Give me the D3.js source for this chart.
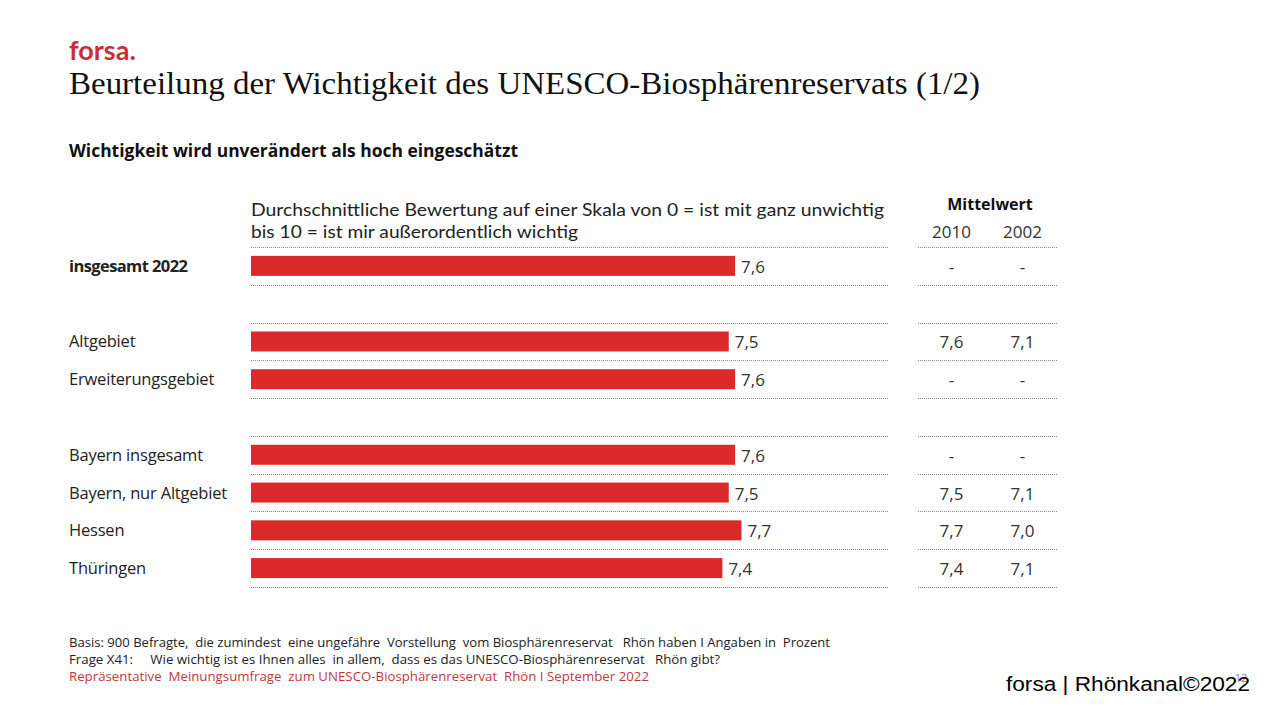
<!DOCTYPE html>
<html><head><meta charset="utf-8">
<script src="https://cdn.jsdelivr.net/npm/d3@7"></script>
<style>
body{margin:0;background:#fff;}
svg{display:block;}
</style></head>
<body>
<svg id="chart" width="1280" height="720"></svg>
<script>
// ---- data ----
const categories = ["insgesamt 2022", "", "Altgebiet", "Erweiterungsgebiet", "", "Bayern insgesamt", "Bayern, nur Altgebiet", "Hessen", "Thüringen"];
const values2022 = [7.6, null, 7.5, 7.6, null, 7.6, 7.5, 7.7, 7.4];
const values2010 = ["-", null, "7,6", "-", null, "-", "7,5", "7,7", "7,4"];
const values2002 = ["-", null, "7,1", "-", null, "-", "7,1", "7,0", "7,1"];
const tableYears = ["2010", "2002"];
const groups = [[0,0],[2,3],[5,8]];

const svg = d3.select("#chart");
const sans = "'Open Sans', 'Noto Sans', sans-serif";
const red = "#dc2a2b";

const x = d3.scaleLinear().domain([0,10]).range([251, 888]);
const y = d3.scaleBand().domain(d3.range(categories.length)).range([247, 587]).paddingInner(0).paddingOuter(0);
const tx = d3.scaleBand().domain(tableYears).range([916, 1058]);

// header
svg.append("text").attr("x",69).attr("y",60).attr("font-family","Lato, 'Open Sans', sans-serif")
  .attr("font-weight","bold").attr("font-size",27).attr("fill","#c7303a").text("forsa.");
svg.append("text").attr("x",69).attr("y",94).attr("font-family","'Liberation Serif', 'DejaVu Serif', serif")
  .attr("font-size",31).attr("fill","#111").attr("textLength",911).attr("lengthAdjust","spacingAndGlyphs")
  .text("Beurteilung der Wichtigkeit des UNESCO-Biosphärenreservats (1/2)");
svg.append("text").attr("x",69).attr("y",157).attr("font-family",sans).attr("font-weight","bold")
  .attr("font-size",17).attr("fill","#111").attr("textLength",449).attr("lengthAdjust","spacingAndGlyphs")
  .text("Wichtigkeit wird unverändert  als hoch eingeschätzt");

// chart explanation
svg.append("text").attr("x",251).attr("y",216).attr("font-family","Lato, sans-serif").attr("font-size",17).attr("fill","#222")
  .attr("textLength",633).attr("lengthAdjust","spacingAndGlyphs")
  .text("Durchschnittliche Bewertung auf einer Skala von 0 = ist mit ganz unwichtig");
svg.append("text").attr("x",251).attr("y",238).attr("font-family","Lato, sans-serif").attr("font-size",17).attr("fill","#222")
  .attr("textLength",327).attr("lengthAdjust","spacingAndGlyphs")
  .text("bis 10 = ist mir außerordentlich wichtig");

// table header
svg.append("text").attr("x",990).attr("y",210).attr("text-anchor","middle").attr("font-family",sans)
  .attr("font-weight","bold").attr("font-size",16).attr("fill","#111").text("Mittelwert");
svg.selectAll("text.year").data(tableYears).join("text").attr("class","year")
  .attr("x",d=>tx(d)+tx.bandwidth()/2).attr("y",238).attr("text-anchor","middle")
  .attr("font-family",sans).attr("font-size",17).attr("fill","#333").text(d=>d);

// dotted lines per group
const lineYs = [];
groups.forEach(([a,b])=>{
  lineYs.push(y(a));
  for(let i=a;i<=b;i++) lineYs.push(y(i)+y.bandwidth());
});
const gl = svg.append("g").attr("stroke","#8a8a8a").attr("stroke-width",1).attr("stroke-dasharray","1,1");
gl.selectAll("line.l").data(lineYs).join("line").attr("class","l")
  .attr("x1",x(0)).attr("x2",x(10)).attr("y1",d=>Math.round(d)+0.5).attr("y2",d=>Math.round(d)+0.5);
gl.selectAll("line.r").data(lineYs).join("line").attr("class","r")
  .attr("x1",tx.range()[0]+2).attr("x2",tx.range()[1]-1).attr("y1",d=>Math.round(d)+0.5).attr("y2",d=>Math.round(d)+0.5);

const rows = d3.range(categories.length).filter(i=>values2022[i]!==null);

// category labels
svg.selectAll("text.cat").data(rows).join("text").attr("class","cat")
  .attr("x",69).attr("y",i=>y(i)+y.bandwidth()/2+6)
  .attr("font-family",sans).attr("font-size",16.5).attr("fill","#222")
  .attr("font-weight",i=>i===0?"bold":"normal")
  .attr("letter-spacing",i=>i===0?-0.6:-0.2)
  .text(i=>categories[i]);

// bars
const bh = 20;
svg.selectAll("rect.bar").data(rows).join("rect").attr("class","bar")
  .attr("x",x(0)).attr("y",i=>y(i)+y.bandwidth()/2-bh/2)
  .attr("width",i=>x(values2022[i])-x(0)).attr("height",bh).attr("fill",red);

// value labels
const fmt = v=>d3.format(".1f")(v).replace(".",",");
svg.selectAll("text.val").data(rows).join("text").attr("class","val")
  .attr("x",i=>x(values2022[i])+6).attr("y",i=>y(i)+y.bandwidth()/2+7)
  .attr("font-family",sans).attr("font-size",17).attr("fill","#333").text(i=>fmt(values2022[i]));

// table values
[values2010, values2002].forEach((arr,k)=>{
  svg.selectAll("text.tv"+k).data(rows).join("text").attr("class","tv"+k)
    .attr("x",tx(tableYears[k])+tx.bandwidth()/2).attr("y",i=>y(i)+y.bandwidth()/2+7)
    .attr("text-anchor","middle").attr("font-family",sans).attr("font-size",17).attr("fill","#333")
    .text(i=>arr[i]);
});

// footer
const foot = [
  {t:"Basis: 900 Befragte,  die zumindest  eine ungefähre  Vorstellung  vom Biosphärenreservat   Rhön haben I Angaben in  Prozent", c:"#222", w:761},
  {t:"Frage X41:     Wie wichtig ist es Ihnen alles  in allem,  dass es das UNESCO-Biosphärenreservat   Rhön gibt?", c:"#222", w:651},
  {t:"Repräsentative  Meinungsumfrage  zum UNESCO-Biosphärenreservat  Rhön I September 2022", c:"#c0393b", w:580}
];
svg.selectAll("text.foot").data(foot).join("text").attr("class","foot")
  .attr("x",69).attr("y",(d,i)=>647+i*17).attr("font-family",sans).attr("font-size",13.5)
  .attr("fill",d=>d.c).attr("textLength",d=>d.w).attr("lengthAdjust","spacingAndGlyphs")
  .attr("xml:space","preserve").style("white-space","pre").text(d=>d.t);

// page number and credit
svg.append("text").attr("x",1241).attr("y",682).attr("text-anchor","middle").attr("font-family",sans)
  .attr("font-size",11).attr("fill","#888").text("12");
svg.append("text").attr("x",1006).attr("y",691).attr("font-family","'Liberation Sans', Arial, sans-serif")
  .attr("font-size",20).attr("fill","#000").attr("textLength",244).attr("lengthAdjust","spacingAndGlyphs")
  .text("forsa | Rhönkanal©2022");
</script>
</body></html>
